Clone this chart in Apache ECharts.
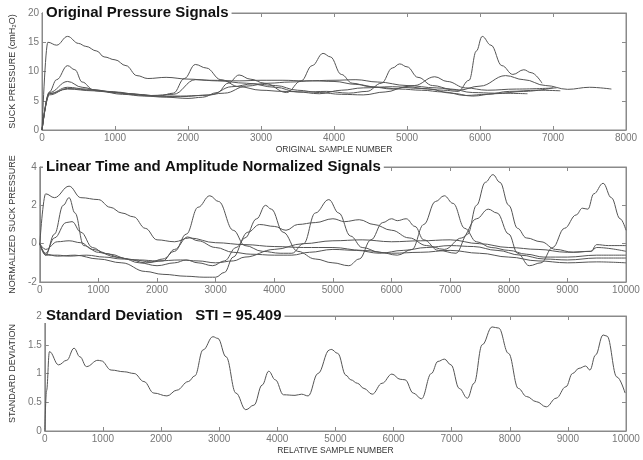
<!DOCTYPE html>
<html>
<head>
<meta charset="utf-8">
<script src="https://cdn.jsdelivr.net/npm/echarts@6/dist/echarts.min.js"></script>
<style>
  html, body { margin: 0; padding: 0; background: #fff; }
  #chart { width: 643px; height: 460px; }
</style>
</head>
<body>
<div id="chart"></div>
<script>
// panel titles
var titles = ['Original Pressure Signals', 'Linear Time and Amplitude Normalized Signals', 'Standard Deviation   STI = 95.409']

// original pressure signals: [sample, cmH2O]
var orig1 = [[0,0],[80,15],[200,14.5],[350,16],[500,14.8],[600,14.3],[750,13.5],[850,12.5],[1000,12.0],[1150,11.0],[1300,9.3],[1450,8.8],[1700,9.0],[2000,8.7],[2300,8.5],[2700,8.4],[3000,8.5],[3300,8.5],[3600,8.4],[4000,8.5],[4300,8.6],[4600,8.2],[5000,7.6],[5400,7.2],[5700,6.8],[6000,7.5],[6350,9.3],[6600,8.6],[6900,7.6],[7200,6.95],[7500,7.3],[7800,7.0]]
var orig2 = [[0,0],[100,6.5],[200,8.6],[350,11.0],[450,10.3],[550,8.2],[700,6.9],[1000,6.4],[1300,6.0],[1600,5.8],[1800,6.3],[1950,8.8],[2100,11.2],[2250,10.6],[2450,8.6],[2700,7.4],[3000,6.8],[3300,6.6],[3600,6.5],[3900,6.6],[4200,6.3],[4450,6.6],[4650,8.0],[4800,10.6],[4900,11.3],[5000,10.8],[5150,9.0],[5350,7.6],[5600,7.0],[5900,6.4],[6200,6.3],[6650,6.2]]
var orig3 = [[0,0],[100,6.4],[350,8.3],[550,7.3],[800,6.6],[1100,6.1],[1400,5.8],[1700,5.6],[2000,5.4],[2200,5.6],[2400,6.4],[2550,8.0],[2700,9.4],[2850,8.7],[3050,8.0],[3350,6.4],[3550,8.4],[3700,11.0],[3850,13.1],[3950,12.5],[4100,9.5],[4250,8.0],[4500,7.4],[4800,7.0],[5100,7.6],[5380,9.1],[5550,8.3],[5800,7.2],[6100,6.8],[6500,7.0],[7050,7.2]]
var orig4 = [[0,0],[100,6.2],[350,7.3],[600,7.0],[900,6.6],[1200,6.2],[1500,5.9],[1800,6.1],[2100,8.6],[2400,8.4],[2800,8.0],[3200,7.3],[3500,6.5],[3800,6.2],[4100,6.8],[4400,7.2],[4800,7.4],[5200,7.1],[5500,6.8],[5700,6.6],[5850,8.5],[5950,13.5],[6030,16.0],[6150,14.5],[6300,11.0],[6450,9.5],[6600,10.3],[6700,9.8],[6850,8.0]]
var orig5 = [[0,0],[100,6.0],[350,7.1],[700,6.8],[1000,6.5],[1300,6.1],[1600,5.8],[1900,5.8],[2200,5.9],[2500,6.3],[2800,7.5],[3100,8.0],[3400,8.2],[3700,8.4],[4000,8.3],[4300,7.8],[4600,7.3],[4900,7.0],[5200,6.8],[5500,6.5],[5800,5.9],[6100,6.1],[6400,6.6],[6800,6.8],[7100,6.7]]
var orig6 = [[0,0],[100,6.2],[350,7.0],[700,6.7],[1100,6.3],[1500,5.8],[1900,5.7],[2300,6.0],[2600,7.4],[2900,7.9],[3200,7.6],[3500,6.8],[3800,6.4],[4100,6.1],[4400,6.0],[4700,6.5],[5000,7.4],[5300,7.0],[5600,6.3],[5900,5.8],[6200,6.2],[6600,6.6],[7000,7.2]]

// normalized signals: [relative sample, normalized pressure]
var norm1 = [[0,0],[100,2.6],[250,2.4],[500,3.0],[700,2.4],[1000,2.3],[1200,1.9],[1400,1.6],[1600,1.4],[1800,0.8],[2000,0.2],[2300,0.1],[2550,0.3],[3000,0.05],[3500,-0.05],[4000,-0.15],[4500,-0.2],[5000,-0.2],[5500,-0.35],[6000,-0.5],[6500,-0.45],[7000,-0.35],[7500,-0.5],[8000,-0.7],[8500,-0.9],[9000,-1.0],[9500,-0.95],[10000,-1.0]]
var norm2 = [[0,0],[100,-0.6],[250,0.5],[400,2.0],[500,2.4],[600,1.6],[750,-0.1],[1000,-0.45],[1300,-0.7],[1600,-0.85],[1900,-0.95],[2100,-0.8],[2300,-0.4],[2500,0.5],[2700,1.9],[2900,2.5],[3050,2.2],[3300,0.7],[3500,-0.1],[3800,-0.4],[4100,-0.5],[4300,-0.5],[4500,0.0],[4700,1.6],[4930,2.3],[5100,1.6],[5300,0.4],[5500,-0.2],[5800,-0.45],[6100,-0.6],[6350,-0.3],[6550,1.0],[6750,2.2],[6900,2.5],[7050,2.1],[7250,0.8],[7450,0.1],[7700,-0.2],[8000,-0.35],[8300,-0.55],[8600,-0.7],[9000,-0.7],[9500,-0.6],[10000,-0.6]]
var norm3 = [[0,0],[100,-0.55],[300,-0.65],[600,-0.6],[1000,-0.8],[1400,-1.0],[1800,-1.45],[2100,-1.6],[2500,-1.7],[2800,-1.75],[3000,-1.75],[3150,-1.5],[3300,-0.7],[3500,0.3],[3700,1.3],[3850,2.0],[3950,1.8],[4150,0.6],[4400,-0.4],[4700,-0.8],[5000,-1.0],[5270,-1.15],[5450,-0.8],[5650,0.2],[5850,1.1],[6000,1.3],[6100,1.2],[6250,1.3],[6400,0.9],[6550,0.2],[6800,-0.35],[7100,-0.5],[7300,0.5],[7450,2.0],[7600,3.2],[7730,3.6],[7850,3.2],[8000,2.0],[8150,0.8],[8300,0.3],[8550,0.1],[8800,-0.3],[9100,-0.45],[9400,-0.4],[9500,-0.05],[9700,-0.1],[10000,-0.1]]
var norm4 = [[0,0],[100,-0.5],[250,0.3],[450,1.1],[550,1.15],[700,0.6],[900,-0.2],[1100,-0.5],[1400,-0.75],[1700,-1.0],[2000,-1.15],[2300,-1.0],[2500,-0.85],[2700,-1.0],[2950,-1.15],[3150,-0.9],[3350,-0.2],[3550,0.6],[3750,1.0],[4000,0.9],[4200,0.7],[4400,1.0],[4700,1.1],[5000,1.3],[5200,1.15],[5450,1.25],[5700,1.0],[6000,0.7],[6300,0.3],[6600,-0.1],[6900,-0.3],[7200,0.3],[7450,1.3],[7650,1.8],[7800,1.6],[8000,0.5],[8150,-0.5],[8350,-1.15],[8550,-1.0],[8750,-0.2],[8950,0.8],[9150,1.5],[9255,1.85],[9350,1.8],[9450,2.6],[9610,3.15],[9750,2.4],[9900,1.3],[10000,0.7]]
var norm5 = [[0,0],[100,-0.3],[300,0.1],[500,0.15],[700,0.05],[900,-0.3],[1200,-0.55],[1500,-0.8],[1800,-1.0],[2100,-0.9],[2300,-0.3],[2520,0.35],[2700,0.15],[3000,-0.2],[3300,-0.45],[3600,-0.55],[4000,-0.6],[4300,-0.6],[4600,-0.45],[5000,-0.3],[5400,-0.35],[5800,-0.5],[6200,-0.35],[6600,-0.2],[7000,-0.1],[7400,-0.15],[7800,-0.35],[8200,-0.6],[8600,-0.8],[9000,-0.85],[9500,-0.75],[10000,-0.75]]
var norm6 = [[0,0],[100,-0.6],[300,-0.6],[500,-0.65],[800,-0.6],[1100,-0.7],[1400,-0.8],[1700,-0.85],[2000,-0.9],[2400,-0.85],[2700,-0.9],[3000,-1.0],[3300,-0.9],[3500,-0.7],[4000,-0.3],[4500,0.0],[5000,0.15],[5500,0.2],[6000,0.1],[6500,0.15],[7000,0.2],[7500,0.0],[8000,-0.2],[8500,-0.3],[9000,-0.45],[9400,-0.4],[9500,-0.2],[10000,-0.4]]

// standard deviation across normalized signals
var stdDev = [[0,0],[30,0.7],[80,1.38],[237,1.15],[378,1.23],[503,1.44],[605,1.29],[717,1.12],[915,1.23],[972,1.22],[1141,1.06],[1367,1.03],[1537,1.0],[1706,0.86],[1876,0.66],[2102,0.61],[2271,0.71],[2469,0.86],[2582,0.96],[2723,1.41],[2893,1.64],[2978,1.61],[3119,1.29],[3288,0.66],[3458,0.37],[3599,0.45],[3740,0.80],[3853,1.04],[3966,0.89],[4107,0.63],[4305,0.62],[4418,0.64],[4531,0.61],[4700,1.0],[4898,1.41],[4927,1.42],[5040,1.35],[5181,0.97],[5266,0.89],[5379,0.83],[5492,0.74],[5633,0.64],[5803,0.83],[5972,0.99],[6114,0.90],[6199,0.89],[6340,0.66],[6481,0.56],[6651,1.0],[6764,1.21],[6876,1.25],[6989,1.15],[7131,0.74],[7272,0.57],[7385,0.83],[7526,1.50],[7696,1.81],[7809,1.79],[7978,1.35],[8148,0.74],[8289,0.60],[8458,0.51],[8628,0.42],[8797,0.57],[8967,0.77],[9080,1.0],[9192,1.09],[9306,1.13],[9379,1.06],[9475,1.32],[9606,1.67],[9673,1.65],[9843,0.94],[9984,0.66]]

var origSeries = [orig1, orig2, orig3, orig4, orig5, orig6]
var normSeries = [norm1, norm2, norm3, norm4, norm5, norm6]

var frame = '#8a8a8a'
var lineColor = '#555'
var font = '"Liberation Sans", Arial, sans-serif'

var grids = [
  { left: 36, top: 13, width: 590, height: 117 },
  { left: 36, top: 167, width: 590, height: 115 },
  { left: 36, top: 316, width: 590, height: 115 }
]
grids.forEach(g => { g.show = true; g.borderColor = frame; g.borderWidth = 1 })

function xAx(idx, max, name, pos) {
  let bottom = pos == 'bottom'
  return {
    type: 'value', gridIndex: idx, position: pos, min: 0, max: max, interval: 1000,
    name: bottom ? name : '', nameLocation: 'middle', nameGap: 15,
    nameTextStyle: { color: '#333', fontSize: 8.5, fontFamily: font },
    axisLine: { show: true, onZero: false, lineStyle: { color: frame } },
    axisTick: { show: true, inside: true, length: 4, lineStyle: { color: frame } },
    axisLabel: { show: bottom, color: '#777', fontSize: 10, fontFamily: font, margin: 3, formatter: v => String(v) },
    splitLine: { show: false }
  }
}

function yAx(idx, min, max, interval, name, pos) {
  let left = pos == 'left'
  return {
    type: 'value', gridIndex: idx, position: pos, min: min, max: max, interval: interval,
    name: left ? name : '', nameLocation: 'middle', nameGap: 22,
    nameTextStyle: { color: '#333', fontSize: 9, fontFamily: font },
    axisLine: { show: true, onZero: false, lineStyle: { color: frame } },
    axisTick: { show: true, inside: true, length: 4, lineStyle: { color: frame } },
    axisLabel: { show: left, color: '#777', fontSize: 10, fontFamily: font, margin: 3, formatter: v => String(v) },
    splitLine: { show: false }
  }
}

var xAxis = [
  xAx(0, 8000, 'ORIGINAL SAMPLE NUMBER', 'bottom'), xAx(0, 8000, '', 'top'),
  xAx(1, 10000, '', 'bottom'), xAx(1, 10000, '', 'top'),
  xAx(2, 10000, 'RELATIVE SAMPLE NUMBER', 'bottom'), xAx(2, 10000, '', 'top')
]
var yAxis = [
  yAx(0, 0, 20, 5, 'SUCK PRESSURE (cmH₂O)', 'left'), yAx(0, 0, 20, 5, '', 'right'),
  yAx(1, -2, 4, 2, 'NORMALIZED SUCK PRESSURE', 'left'), yAx(1, -2, 4, 2, '', 'right'),
  yAx(2, 0, 2, 0.5, 'STANDARD DEVIATION', 'left'), yAx(2, 0, 2, 0.5, '', 'right')
]

function line(data, xi, yi) {
  return {
    type: 'line', data: data, xAxisIndex: xi, yAxisIndex: yi,
    showSymbol: false, smooth: 0.4, smoothMonotone: 'x',
    lineStyle: { color: lineColor, width: 1 }, silent: true, animation: false
  }
}

var series = []
origSeries.forEach(d => series.push(line(d, 0, 0)))
normSeries.forEach(d => series.push(line(d, 2, 2)))
series.push(line(stdDev, 4, 4))

var titleTops = [5, 159, 308]
var title = titles.map((t, i) => ({
  text: t, left: 43, top: titleTops[i], padding: [0, 3],
  backgroundColor: '#fff',
  textStyle: { fontSize: 15, fontWeight: 'bold', color: '#111', fontFamily: font }
}))

var myChart = echarts.init(document.getElementById('chart'))
myChart.setOption({
  animation: false,
  title: title,
  grid: grids,
  xAxis: xAxis,
  yAxis: yAxis,
  series: series
})
</script>
</body>
</html>
